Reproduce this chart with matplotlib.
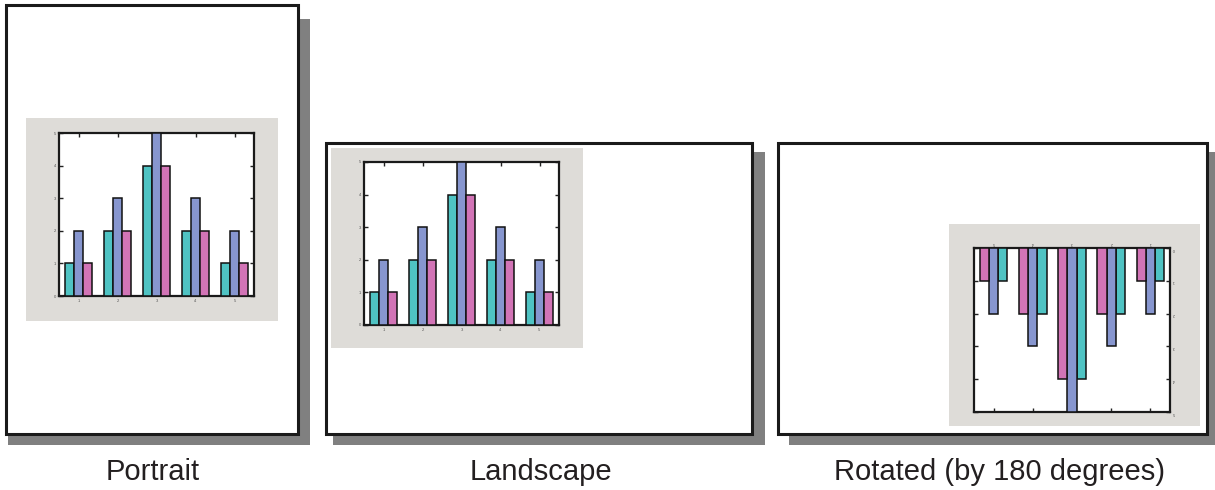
import matplotlib
matplotlib.use("Agg")
import matplotlib.pyplot as plt
from matplotlib.patches import Rectangle
import numpy as np

plt.rcParams['font.family'] = ['Liberation Sans', 'DejaVu Sans']

# ---- data ----
categories = [1, 2, 3, 4, 5]
teal_vals = [1, 2, 4, 2, 1]
blue_vals = [2, 3, 5, 3, 2]
pink_vals = [1, 2, 4, 2, 1]
x_ticklabels = ['1', '2', '3', '4', '5']
y_ticks = [0, 1, 2, 3, 4, 5]
page_titles = ['Portrait', 'Landscape', 'Rotated (by 180 degrees)']

W, H = 1215, 490
fig = plt.figure(figsize=(W / 100, H / 100), dpi=100)

bg = fig.add_axes([0, 0, 1, 1])
bg.set_xlim(0, W)
bg.set_ylim(H, 0)
bg.axis('off')

def rect(ax, x0, y0, x1, y1, **kw):
    ax.add_patch(Rectangle((x0, y0), x1 - x0, y1 - y0, **kw))

# page geometry in pixels: page box, shadow box, gray panel, axes box, title x
pages = [
    dict(page=(6, 5, 298, 434), shadow=(8, 19, 310, 445),
         panel=(26, 118, 278, 321), axes=(59, 133, 254, 296), tx=153, rot=False),
    dict(page=(326, 143, 752, 434), shadow=(333, 152, 765, 445),
         panel=(331, 148, 583, 348), axes=(364, 162, 559, 325), tx=541, rot=False),
    dict(page=(778, 143, 1207, 434), shadow=(789, 152, 1215, 445),
         panel=(949, 224, 1200, 426), axes=(974, 248, 1170, 412), tx=999, rot=True),
]

teal_c = '#4fc3c3'
blue_c = '#8796cf'
pink_c = '#d274b6'
panel_c = '#dedcd8'

for p, title in zip(pages, page_titles):
    rect(bg, *p['shadow'], facecolor='#808080', edgecolor='none', zorder=1)
    rect(bg, *p['page'], facecolor='white', edgecolor='#1a1a1a', linewidth=2.2, zorder=2)
    rect(bg, *p['panel'], facecolor=panel_c, edgecolor='none', zorder=3)
    bg.text(p['tx'], 472, title, ha='center', va='center', fontsize=21, color='#231f20')

    l, t, r, b = p['axes']
    ax = fig.add_axes([l / W, 1 - b / H, (r - l) / W, (b - t) / H])
    ax.set_facecolor('white')
    x = np.array(categories, dtype=float)
    bw = 0.235
    order = [(teal_vals, teal_c, -bw), (blue_vals, blue_c, 0.0), (pink_vals, pink_c, bw)]
    for vals, c, off in order:
        ax.bar(x + off, vals, width=bw, color=c, edgecolor='#111111', linewidth=1.1, zorder=3)
    ax.set_xlim(0.5, 5.5)
    ax.set_ylim(0, 5)
    ax.set_xticks(categories)
    ax.set_xticklabels(x_ticklabels)
    ax.set_yticks(y_ticks)
    ax.set_yticklabels([str(v) for v in y_ticks])
    for s in ax.spines.values():
        s.set_color('#1a1a1a')
        s.set_linewidth(1.6)
    if p['rot']:
        ax.invert_xaxis()
        ax.invert_yaxis()
        ax.tick_params(axis='both', direction='in', length=3, width=1, color='#222',
                       labelsize=3, labelcolor='#555', pad=2,
                       top=True, right=True, bottom=True, left=True,
                       labelleft=False, labelright=True, labelbottom=False, labeltop=True)
        for lab in ax.get_xticklabels() + ax.get_yticklabels():
            lab.set_rotation(180)
    else:
        ax.tick_params(axis='both', direction='in', length=3, width=1, color='#222',
                       labelsize=3, labelcolor='#555', pad=2,
                       top=True, right=True, bottom=True, left=True)

fig.savefig('out.png', dpi=100)
